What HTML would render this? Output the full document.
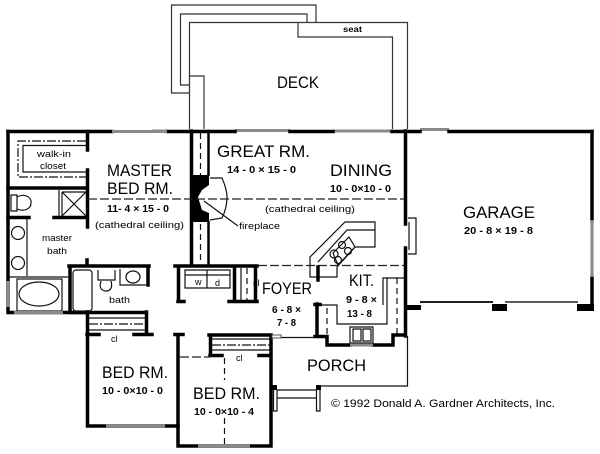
<!DOCTYPE html>
<html>
<head>
<meta charset="utf-8">
<style>
html,body{margin:0;padding:0;background:#fff;width:600px;height:454px;overflow:hidden}
svg{display:block}
text{font-family:"Liberation Sans",sans-serif;fill:#000}
.r{font-size:17px}
.d{font-size:10px;font-weight:bold}
.s{font-size:9px}
.w{stroke:#000;stroke-width:3.5;fill:none;stroke-linecap:square}
.t{stroke:#111;stroke-width:1.2;fill:none}
.g{stroke:#333;stroke-width:1.2;fill:none}
.win{stroke:#8a8a8a;stroke-width:3;fill:none}
.da{stroke:#222;stroke-width:1.2;fill:none;stroke-dasharray:9 3}
.dd{stroke:#111;stroke-width:1.2;fill:none;stroke-dasharray:9 2 2 2}
.dv{stroke:#111;stroke-width:1.2;fill:none;stroke-dasharray:6 4}
</style>
</head>
<body>
<svg width="600" height="454" viewBox="0 0 600 454" xmlns="http://www.w3.org/2000/svg">
<rect width="600" height="454" fill="#fff"/>

<!-- deck -->
<path class="g" d="M189.5 93H171.5V5H316V22.5"/>
<path class="g" d="M189.5 85H180.5V14H307V22.5"/>
<path class="g" d="M189.5 129V22.5H407.5V129"/>
<path class="g" d="M298 22.5V37H392.5V129"/>
<path class="g" d="M189.5 76H204V129"/>

<!-- exterior top wall -->
<path class="win" d="M152 131H167M235 130.5H290M333 131H392M420 129.5H449"/>
<path class="w" d="M8 131.5H112M167 131.5H235M290 131.5H333M392 131.5H420M449 131.5H592"/>
<path class="win" d="M112 131.5H167"/>
<path class="w" d="M8 131.5V312.5H87"/>

<!-- walk-in closet -->
<path class="w" d="M8 188H87M87.5 131.5V150M87.5 170V227M8 217.5H29M54 217.5H87"/>
<path class="dd" d="M86 141H18V177H86"/>
<path class="t" d="M86 145.5H23V172H86"/>

<!-- shower -->
<path class="t" d="M59 190V217M62 192H86M62 192L86 216M86 192L62 216M62 192V216"/>

<!-- toilet master -->
<path class="t" d="M11 195H17V211H11ZM17 197C24 193 32 197 31 203C31 209 24 212 17 209"/>

<!-- vanity -->
<path class="t" d="M27 219V276M9 277H68"/>
<circle class="t" cx="18" cy="233" r="6.5"/>
<circle class="t" cx="18" cy="263" r="6.5"/>

<!-- tub -->
<rect class="t" x="17" y="279" width="45" height="32"/>
<ellipse class="t" cx="39" cy="294" rx="20" ry="12"/>
<path class="win" d="M8 281V307M14 312.5H63"/>

<!-- bath -->
<path class="w" d="M69 266H149M70 266V312M87 260V266M148 266V285M70 312.5H146"/>
<rect class="t" x="73" y="270" width="19" height="41" rx="3"/>
<path class="t" d="M98 270V280H115V270M101 281C98 290 104 291 106 291C110 291 113 288 111 281"/>
<path class="t" d="M120 269V285H146"/>
<ellipse class="t" cx="133" cy="277" rx="7" ry="6"/>

<!-- bed 1 -->
<path class="w" d="M87.5 312V426H178M146.5 312V334M87 334.5H99M134 334.5H152M175 334.5H183"/>
<path class="dd" d="M89 324H145"/>
<path class="t" d="M89 318H145M89 330H145"/>
<path class="win" d="M106 426H165"/>

<!-- bed 2 -->
<path class="w" d="M178 335V446H271V335H209M210.5 335V355M210 355.5H222M259 355.5H271"/>
<path class="dd" d="M212 345H270"/>
<path class="t" d="M212 339H270M212 350H270"/>
<path class="da" d="M180 357H210"/>
<path class="dv" d="M224.5 358V380M224.5 418V446"/>
<path class="win" d="M198 446H250"/>

<!-- great room walls -->
<path class="w" d="M191.5 131V265"/>
<path class="w" style="stroke-width:2.5" d="M208.5 131V175M208.5 222V265"/>
<path class="dv" d="M200.5 133V175M200.5 224V264"/>

<!-- fireplace -->
<path fill="#000" d="M190 175H209V185L202 190L198 197L202 210L209 213V222H190Z"/>
<path class="t" d="M210 178H222C225 185 227 191 227 197C227 205 225 212 222 218L210 220"/>
<path class="t" d="M204 201L238 226"/>

<!-- dashed lines -->
<path class="da" d="M88 199H405"/>
<path class="da" d="M258 265.5H405"/>

<!-- laundry -->
<path class="w" d="M175 266H257M178.5 266V301M178 301.5H184M234.5 266V301M229 301.5H257M255.5 266V301"/>
<path class="t" d="M185 270H230V288H185ZM207 270V288M185 275H230"/>
<path class="dv" d="M247 268V300"/>
<path class="t" d="M241 268V300"/>

<!-- kitchen peninsula -->
<path class="t" d="M310 257L345 222H375V247H355L337 267V277H310Z"/>
<path class="t" d="M318 262L347 230H375"/>
<path class="t" d="M333 253L349 237L355 247L338 265Z"/>
<circle class="t" cx="334" cy="254" r="4"/>
<circle class="t" cx="342" cy="245" r="3.5"/>
<circle class="t" cx="348" cy="251" r="3.5"/>
<circle class="t" cx="338" cy="260" r="3.5"/>
<path class="w" d="M318 267V280"/>

<!-- kitchen counters -->
<path class="t" d="M318 305H337V324H387V278H405M383 305V278H405"/>
<path class="dv" d="M397 278V335"/>
<path class="dv" d="M327 308V334"/>
<path class="w" d="M317 304V336M315 336.5H327V345H350M373 345H393V335H405M315 304.5H320"/>
<path class="t" d="M350 327H373V343H350ZM353 329H361V341H353ZM363 329H371V341H363Z"/>
<path class="win" d="M350 345H373"/>

<!-- entry -->
<path class="t" d="M272 337.5H315"/>
<rect x="272" y="335" width="9" height="3" fill="#fff" stroke="#555" stroke-width="1"/>

<!-- garage -->
<path class="w" d="M405.5 131V224M405.5 248V336M592 131.5V220M592 277V309"/>
<path class="win" d="M592 220V277"/>
<path fill="#000" d="M407 305H421V310H407ZM492 304H507V311H492ZM577 304H594V311H577Z"/>
<path class="t" d="M408 218H416V254H408"/>
<path class="t" d="M409 222V250"/>
<path stroke="#000" stroke-width="1.8" fill="none" d="M420 302H493"/>
<path stroke="#444" stroke-width="1.8" fill="none" d="M505 302H578"/>

<!-- porch -->
<path class="t" d="M407.5 336V386H320"/>
<path fill="#000" d="M272 385H277V390H272ZM316 385H321V390H316Z"/>
<path class="t" d="M277 390H316M277 398H316"/>
<path class="t" d="M273.5 390V411H277V390M316.5 390V411H320V390"/>

<!-- labels -->
<text class="r" x="277" y="88" textLength="42" lengthAdjust="spacingAndGlyphs">DECK</text>
<text x="343" y="32" font-size="8" font-weight="bold" textLength="19" lengthAdjust="spacingAndGlyphs">seat</text>

<text class="r" x="107" y="176" textLength="65" lengthAdjust="spacingAndGlyphs">MASTER</text>
<text class="r" x="107" y="194" textLength="66" lengthAdjust="spacingAndGlyphs">BED RM.</text>
<text class="d" x="107" y="212" textLength="62" lengthAdjust="spacingAndGlyphs">11- 4 × 15 - 0</text>
<text class="s" x="95" y="228" textLength="89" lengthAdjust="spacingAndGlyphs">(cathedral  ceiling)</text>
<text class="s" x="37" y="157" textLength="34" lengthAdjust="spacingAndGlyphs">walk-in</text>
<text class="s" x="40" y="169" textLength="26" lengthAdjust="spacingAndGlyphs">closet</text>
<text class="s" x="42" y="241" textLength="30" lengthAdjust="spacingAndGlyphs">master</text>
<text class="s" x="47" y="254" textLength="20" lengthAdjust="spacingAndGlyphs">bath</text>
<text class="s" x="109" y="303" textLength="21" lengthAdjust="spacingAndGlyphs">bath</text>

<text class="r" x="217" y="157" textLength="93" lengthAdjust="spacingAndGlyphs">GREAT RM.</text>
<text class="d" x="227" y="173" textLength="69" lengthAdjust="spacingAndGlyphs">14 - 0 × 15 - 0</text>
<text class="r" x="330" y="176" textLength="62" lengthAdjust="spacingAndGlyphs">DINING</text>
<text class="d" x="330" y="192" textLength="61" lengthAdjust="spacingAndGlyphs">10 - 0×10 - 0</text>
<text class="s" x="265" y="212" textLength="90" lengthAdjust="spacingAndGlyphs">(cathedral  ceiling)</text>
<text class="s" x="239" y="229" textLength="41" lengthAdjust="spacingAndGlyphs">fireplace</text>

<text x="195" y="285" font-size="9">w</text>
<text x="215" y="286" font-size="9">d</text>
<text x="253" y="286" font-size="9">cl</text>

<text class="r" x="262" y="294" textLength="50" lengthAdjust="spacingAndGlyphs">FOYER</text>
<text class="d" x="272" y="313" textLength="29" lengthAdjust="spacingAndGlyphs">6 - 8 ×</text>
<text class="d" x="277" y="326" textLength="19" lengthAdjust="spacingAndGlyphs">7 - 8</text>
<text class="r" x="349" y="286" textLength="25" lengthAdjust="spacingAndGlyphs">KIT.</text>
<text class="d" x="346" y="303" textLength="31" lengthAdjust="spacingAndGlyphs">9 - 8 ×</text>
<text class="d" x="347" y="317" textLength="25" lengthAdjust="spacingAndGlyphs">13 - 8</text>

<text class="r" x="463" y="218" textLength="72" lengthAdjust="spacingAndGlyphs">GARAGE</text>
<text class="d" x="464" y="234" textLength="69" lengthAdjust="spacingAndGlyphs">20 - 8 × 19 - 8</text>

<text x="111" y="342" font-size="9">cl</text>
<text class="r" x="102" y="378" textLength="66" lengthAdjust="spacingAndGlyphs">BED RM.</text>
<text class="d" x="102" y="394" textLength="61" lengthAdjust="spacingAndGlyphs">10 - 0×10 - 0</text>
<text x="236" y="361" font-size="9">cl</text>
<text class="r" x="193" y="399" textLength="67" lengthAdjust="spacingAndGlyphs">BED RM.</text>
<text class="d" x="194" y="415" textLength="60" lengthAdjust="spacingAndGlyphs">10 - 0×10 - 4</text>
<text class="r" x="307" y="371" textLength="59" lengthAdjust="spacingAndGlyphs">PORCH</text>
<text x="331" y="407" font-size="11" textLength="224" lengthAdjust="spacingAndGlyphs">© 1992 Donald A. Gardner Architects, Inc.</text>
</svg>
</body>
</html>
